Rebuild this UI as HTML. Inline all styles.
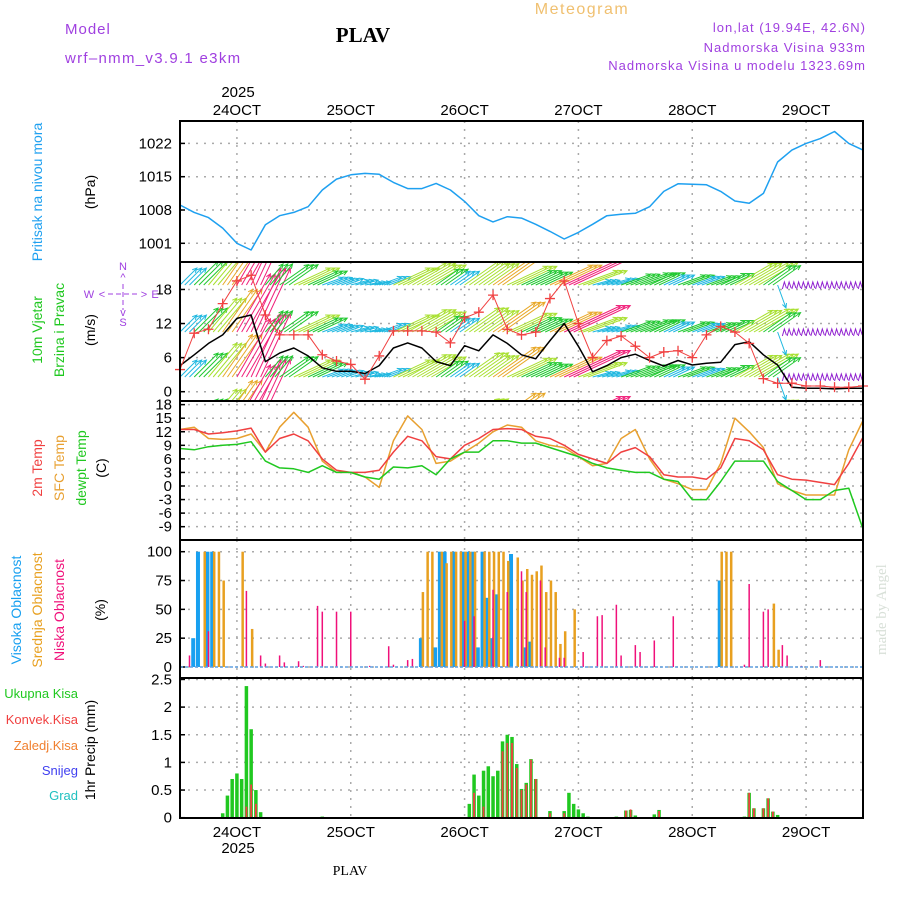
<!DOCTYPE html>
<html><head><meta charset="utf-8"><title>Meteogram PLAV</title>
<style>
body{margin:0;background:#fff;}
svg{display:block;font-family:"Liberation Sans",sans-serif;}
.t{font-size:15px;fill:#000;}
</style></head><body>
<svg id="chart" width="900" height="900" viewBox="0 0 900 900" xmlns="http://www.w3.org/2000/svg">
<defs><clipPath id="cw"><rect x="180" y="262" width="683" height="139"/></clipPath></defs>
<rect width="900" height="900" fill="#fff"/>
<text x="65" y="34" font-size="15" fill="#a040e0" letter-spacing="1">Model</text>
<text x="65" y="63" font-size="15" fill="#a040e0" letter-spacing="1.3">wrf–nmm_v3.9.1 e3km</text>
<text x="363" y="42" font-size="21" font-weight="bold" font-family="Liberation Serif,serif" text-anchor="middle">PLAV</text>
<text x="582" y="14" font-size="16" fill="#f0c070" text-anchor="middle" letter-spacing="1.5">Meteogram</text>
<text x="866" y="32" font-size="13" fill="#a040e0" text-anchor="end" letter-spacing="1">lon,lat (19.94E, 42.6N)</text>
<text x="866" y="52" font-size="13" fill="#a040e0" text-anchor="end" letter-spacing="1">Nadmorska Visina 933m</text>
<text x="866" y="70" font-size="13" fill="#a040e0" text-anchor="end" letter-spacing="1">Nadmorska Visina u modelu 1323.69m</text>
<text x="350" y="875" font-size="14" font-family="Liberation Serif,serif" text-anchor="middle">PLAV</text>
<text transform="translate(886,655) rotate(-90)" font-size="15" fill="#d8e0d8" font-family="Liberation Serif,serif">made by Angel</text>
<g id="g"></g>
</svg>
<script>
// ---- data (hour offsets from 23 Oct 12Z, 3-hourly for series) ----
const dayLabels=["24OCT","25OCT","26OCT","27OCT","28OCT","29OCT"];
const pressure=[1009.05,1007.5,1006.4,1004.2,1001,999.6,1004.9,1006.8,1007.5,1008.7,1012.2,1014.5,1015.4,1015.7,1015.5,1013.8,1012.5,1012.5,1013.6,1012.2,1009.8,1006.8,1005.5,1006.6,1006.3,1005,1003.5,1001.9,1003.3,1005,1006.8,1007.1,1007.3,1008.7,1011.9,1013.5,1013.4,1013.3,1011.9,1009.9,1009.4,1011.5,1018.1,1020.6,1022,1023,1024.5,1022,1020.6];
const windSpeed=[4.6,6.5,8.5,10,12.9,13.5,5.3,6.8,7.7,6.3,4.2,3.6,3.6,3.2,4.6,7.7,8.6,7.7,5.3,4.6,8.1,7.2,10,8.5,6.5,5.8,9,12,8,3.5,4.6,6,6.6,5.5,4.5,5.5,4.7,5,5.2,8.3,8.8,6.5,4.7,0.8,0.6,0.6,0.5,0.6,0.6];
const windGust=[3.9,10.3,11,15.5,19.5,20.5,13.5,10,10,10,6.5,5.4,4.8,2.2,6.3,10.7,10.7,10.7,10.5,8.6,13,14,17,11,10,10.5,16.4,19.5,12,6,9,9.8,8,6,7,7.2,6,10,11.5,10.5,8.5,2.3,1.5,1.5,1,1,0.8,0.8,1];
const windDir=[45,45,50,55,60,65,50,35,25,25,20,20,15,10,20,25,30,30,35,35,35,35,35,25,25,25,25,25,20,15,15,20,20,25,25,20,20,20,25,30,30,35,-70,0,0,0,0,0,0];
const temp2m=[12.5,12.5,11.5,11.8,12.2,12.8,7.5,10.5,11.5,10,6,3.5,3,3,3.5,7.5,11,10,6.5,6,9,10.5,12.5,12.7,12.5,11,10.5,9,7,6,5,7.5,8.5,6.5,2.5,2,2,1.5,4,10.5,10,8,2.5,1.5,1.3,0.8,0.3,5,10.8];
const tempSfc=[12.5,13,10.5,10.3,10.5,11.5,7.5,13,16.3,13,5.5,3,3,2,-0.3,10,15.5,12.5,5,5.5,7.5,9.5,12,13.5,13,10,9,8.5,6.5,4.5,5,10.5,12.5,6,1.5,0.5,-0.8,-0.8,5,15,12,8.5,0.5,-1,-2,-2,-2,8,14.5];
const tempDew=[8.3,8,8.7,9,9.2,9.8,5.5,4,3.8,3,4.5,3,3,2,1.5,4.2,4,4.5,2.5,6,7.5,7.5,10,10,9.5,9.5,8.5,7.5,6.5,5,4,3.5,3,3,1.5,1,-3,-3,1,5.5,5.5,5.5,1,-1,-3,-3,-1,-0.5,-9.5];
const highHours=[3,4,6,7,51,54,55,56,58,60,61,62,63,64,65,66,67,70,73,74,114];
const highVals=[25,100,100,100,25,17,100,100,100,100,100,100,17,100,60,25,63,98,17,22,75];
const midHours=[5,7,8,9,13,15,51,52,53,55,56,57,58,59,60,61,62,64,65,66,67,68,69,71,72,73,74,75,76,77,78,79,80,81,83,114,115,116,125,126];
const midVals=[100,100,100,75,100,33,65,100,100,100,90,100,100,100,100,100,100,100,100,100,100,100,92,95,75,85,80,83,88,65,75,65,20,31,50,100,100,100,55,15];
const lowHours=[2,6,14,17,18,21,22,25,26,29,30,33,36,40,44,45,48,49,60,62,66,69,72,73,76,77,80,81,85,88,89,92,93,96,97,100,104,119,120,123,124,127,128,131,135];
const lowVals=[10,31,66,10,3,10,4,5,1,53,48,48,48,1,18,2,6,7,40,44,67,65,83,65,75,17,8,8,13,44,45,54,10,19,13,23,44,2,72,48,50,19,10,1,6];
const precipHours=[9,10,11,12,13,14,15,16,17,30,61,62,63,64,65,66,67,68,69,70,71,72,73,74,75,78,81,82,83,84,85,86,92,94,95,96,100,101,119,120,121,123,124,125,126];
const precipTotal=[0.08,0.4,0.7,0.8,0.7,2.38,1.6,0.5,0.1,0.02,0.25,0.78,0.4,0.85,0.93,0.75,0.85,1.38,1.5,1.46,0.97,0.52,0.63,1.06,0.7,0.12,0.12,0.45,0.25,0.15,0.08,0.02,0.02,0.13,0.14,0.04,0.06,0.14,0.02,0.45,0.17,0.17,0.35,0.11,0.05];
const convHours=[14,15,16,62,64,66,68,69,70,71,72,73,74,75,78,81,94,95,101,120,121,123,124,125];
const convVals=[0.2,0.6,0.25,0.45,0.2,0.01,1.2,1.35,1.35,0.9,0.5,0.6,1.05,0.7,0.08,0.08,0.13,0.15,0.12,0.45,0.17,0.17,0.35,0.11];
const pTicks=[1001,1008,1015,1022];
const wTicks=[0,6,12,18];
const tTicks=[18,15,12,9,6,3,0,-3,-6,-9];
const cTicks=[0,25,50,75,100];
const rTicks=[0,0.5,1,1.5,2,2.5];

// ---- axes ----
const L=180,R=863,NH=144;
const xs=h=>L+h*(R-L)/NH;
const yP=p=>243.3-(p-1001)*33.3/7;
const yW=s=>391.7-s*5.68;
const yT=t=>486-t*4.52;
const yC=v=>667-v*1.153;
const yR=v=>817.7-v*55.3;
const NS="http://www.w3.org/2000/svg";
const G=document.getElementById('g');
function mk(tag,attrs,parent){const e=document.createElementNS(NS,tag);for(const k in attrs)e.setAttribute(k,attrs[k]);(parent||G).appendChild(e);return e;}
const panels=[[121,262,'pressure-panel'],[262,401,'wind-panel'],[401,540,'temperature-panel'],[540,678,'cloud-panel'],[678,818,'precip-panel']];
function hgrid(y){const l=mk('line',{x1:L,x2:R,y1:y,y2:y,stroke:'#aaa','stroke-width':1.5,'stroke-dasharray':'2,6'});

}
function ticks(arr,fy,name){arr.forEach(v=>{hgrid(fy(v));const t=mk('text',{x:172,y:fy(v)+5,'text-anchor':'end',class:'t'});t.textContent=String(v);


const tk=mk('line',{x1:L,x2:L+5,y1:fy(v),y2:fy(v),stroke:'#000','stroke-width':1.5});

});}
ticks(pTicks,yP,'pressure-tick');
ticks(wTicks,yW,'wind-tick');
ticks(tTicks,yT,'temp-tick');
ticks(cTicks,yC,'cloud-tick');
ticks(rTicks,yR,'precip-tick');
dayLabels.forEach((d,i)=>{const x=xs(12+24*i);
panels.forEach(p=>{const l=mk('line',{x1:x,x2:x,y1:p[0],y2:p[1],stroke:'#aaa','stroke-width':1.5,'stroke-dasharray':'2,6'});

});
const t1=mk('text',{x:x,y:115,'text-anchor':'middle',class:'t'});t1.textContent=d;


const t2=mk('text',{x:x,y:837,'text-anchor':'middle',class:'t'});t2.textContent=d;

});
[[238,97,'top-year-label'],[238,853,'bottom-year-label']].forEach(a=>{const t=mk('text',{x:a[0],y:a[1],'text-anchor':'middle',class:'t'});t.textContent='2025';

});
function pl(arr,fy,color,name,w){const pts=arr.map((v,i)=>xs(i*3).toFixed(1)+','+fy(v).toFixed(1)).join(' ');
const e=mk('polyline',{points:pts,fill:'none',stroke:color,'stroke-width':w||1.5,'stroke-linejoin':'round'});

return e;}
pl(pressure,yP,'#1ea0f0','pressure-line');
// wind arrows
const wg=mk('g',{'clip-path':'url(#cw)'});


function wcol(s){return s<3?'#2050ff':s<5?'#20b8e0':s<7?'#20c830':s<9?'#a8e030':s<11?'#e8a828':'#f0207a';}
const bases=[423,377,332,285,239];
windSpeed.forEach((s,i)=>{for(let k=0;k<3;k++){const h=i*3+k;if(h>NH)break;
if(h<=126){const a=windDir[i]*Math.PI/180,Ln=Math.max(10,s*5.2);
bases.forEach(b=>{const x0=xs(h),x1=x0+Ln*Math.cos(a),y1=b-Ln*Math.sin(a);
const ang=Math.atan2(y1-b,x1-x0);const hx=x1-5*Math.cos(ang-0.45),hy=y1-5*Math.sin(ang-0.45),gx=x1-5*Math.cos(ang+0.45),gy=y1-5*Math.sin(ang+0.45);
const ar=mk('path',{d:`M${x0},${b}L${x1},${y1}M${hx},${hy}L${x1},${y1}L${gx},${gy}`,stroke:wcol(s),'stroke-width':1,fill:'none'},wg);

});}
else{bases.forEach(b=>{const x0=xs(h);const ar=mk('path',{d:`M${x0},${b+4}L${x0+2},${b-3}L${x0+4},${b+3}`,stroke:'#9020d0','stroke-width':1,fill:'none'},wg);

});}}});
pl(windSpeed,yW,'#000','wind-speed-line',1.5);
pl(windGust,yW,'#f04040','wind-gust-line',1);
windGust.forEach((v,i)=>{const x=xs(i*3),y=yW(v);const m=mk('path',{d:`M${x-5},${y}H${x+5}M${x},${y-5}V${y+5}`,stroke:'#f04040','stroke-width':1.3});

});
pl(tempSfc,yT,'#e8a030','sfc-temp-line');
pl(temp2m,yT,'#f04040','temp-2m-line');
pl(tempDew,yT,'#20c820','dewpoint-line');
function bars(hours,vals,fy,color,w,name,off){hours.forEach((h,i)=>{const y=fy(vals[i]),y0=fy(0);
const r=mk('rect',{x:xs(h)-w/2+(off||0),y:y,width:w,height:Math.max(0,y0-y),fill:color});

});}
bars(highHours,highVals,yC,'#18a0f0',4,'high-cloud-bar',-1);
bars(midHours,midVals,yC,'#e8a020',2.5,'mid-cloud-bar',1);
bars(lowHours,lowVals,yC,'#f0107a',1.5,'low-cloud-bar',0);
const cb=mk('line',{x1:L,x2:R,y1:yC(0),y2:yC(0),stroke:'#60a0e0','stroke-width':1.5,'stroke-dasharray':'3,2'});


bars(precipHours,precipTotal,yR,'#20c820',3.5,'total-precip-bar',0);
bars(convHours,convVals,yR,'#f04040',1.8,'convective-precip-bar',0);
const pb=mk('line',{x1:L,x2:R,y1:yR(0),y2:yR(0),stroke:'#000','stroke-width':1.5,'stroke-dasharray':'5,3'});


panels.forEach(p=>{const r=mk('rect',{x:L,y:p[0],width:R-L,height:p[1]-p[0],fill:'none',stroke:'#000','stroke-width':2});

});
function vlab(x,y,txt,color,name,fs){const t=mk('text',{transform:`translate(${x},${y}) rotate(-90)`,'text-anchor':'middle','font-size':fs||14,fill:color});t.textContent=txt;

}
vlab(42,192,'Pritisak na nivou mora','#1ea0f0','pressure-title');
vlab(95,192,'(hPa)','#000','pressure-unit');
vlab(42,330,'10m Vjetar','#20c820','wind-title');
vlab(64,330,'Brzina i Pravac','#20c820','wind-subtitle');
vlab(95,330,'(m/s)','#000','wind-unit');
vlab(42,468,'2m Temp','#f04040','temp-2m-title');
vlab(64,468,'SFC Temp','#e8a030','sfc-temp-title');
vlab(86,468,'dewpt Temp','#20c820','dewpoint-title');
vlab(106,468,'(C)','#000','temp-unit');
vlab(21,610,'Visoka Oblacnost','#18a0f0','high-cloud-title');
vlab(42,610,'Srednja Oblacnost','#e8a020','mid-cloud-title');
vlab(64,610,'Niska Oblacnost','#f0107a','low-cloud-title');
vlab(105,610,'(%)','#000','cloud-unit');
vlab(95,750,'1hr Precip (mm)','#000','precip-unit');
[['Ukupna Kisa','#20c820',698,'total-precip-legend'],['Konvek.Kisa','#f04040',724,'convective-legend'],['Zaledj.Kisa','#f08030',750,'freezing-legend'],['Snijeg','#4040f0',775,'snow-legend'],['Grad','#20c0c0',800,'hail-legend']].forEach(a=>{
const t=mk('text',{x:78,y:a[2],'text-anchor':'end','font-size':13,fill:a[1]});t.textContent=a[0];

});
const cg=mk('g',{fill:'#a040e0','font-size':11});


[['N',123,270],['W',89,298],['E',155,298],['S',123,326],['^',123,281],['v',123,316],['<',102,298],['>',144,298]].forEach(a=>{const t=mk('text',{x:a[1],y:a[2],'text-anchor':'middle'},cg);t.textContent=a[0];

});
mk('path',{d:'M108,294H140M123,284V310',stroke:'#a040e0','stroke-width':1,'stroke-dasharray':'5,3'},cg);
</script>
</body></html>
